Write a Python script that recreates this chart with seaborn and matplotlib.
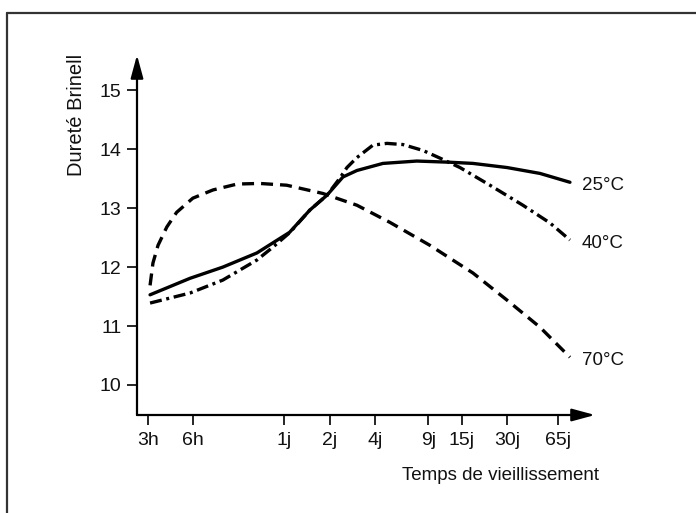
import matplotlib
matplotlib.use("Agg")
import matplotlib.pyplot as plt
from matplotlib.lines import Line2D
from matplotlib.ticker import NullLocator, FixedLocator, FixedFormatter
import pandas as pd
import seaborn as sns

# Aging time (hours) and Brinell hardness for each aging temperature
hours_25 = [3.1, 5.7, 9.4, 15.8, 26, 35.5, 46, 58.7, 72.7, 108, 181, 300, 426, 716, 1184, 1870]
hardness_25 = [11.53, 11.81, 12.00, 12.24, 12.59, 12.97, 13.22, 13.53, 13.64, 13.76, 13.80,
               13.78, 13.76, 13.69, 13.59, 13.44]

hours_40 = [3.1, 5.7, 9.4, 15.8, 20.2, 26.2, 35.5, 46, 56, 62.4, 72.7, 92.7, 114.8, 146.5,
            198.8, 257.6, 349.5, 552, 913, 1378, 1870]
hardness_40 = [11.39, 11.56, 11.78, 12.12, 12.34, 12.59, 12.97, 13.22, 13.51, 13.69, 13.86,
               14.07, 14.10, 14.08, 13.98, 13.85, 13.69, 13.39, 13.05, 12.75, 12.46]

hours_70 = [3.1, 3.24, 3.5, 4.0, 4.65, 5.95, 8.1, 11.7, 16.5, 24.9, 43.2, 72.7, 120, 221,
            426, 716, 1184, 1870]
hardness_70 = [11.69, 12.07, 12.37, 12.68, 12.93, 13.17, 13.31, 13.41, 13.42, 13.39, 13.25,
               13.05, 12.76, 12.37, 11.90, 11.44, 10.98, 10.47]

series_names = ["25°C", "40°C", "70°C"]
tick_hours = [3, 6, 24, 48, 96, 216, 360, 720, 1560]
tick_labels = ["3h", "6h", "1j", "2j", "4j", "9j", "15j", "30j", "65j"]
y_ticks = [10, 11, 12, 13, 14, 15]

sns.set_theme(style="white")
plt.rcParams["font.family"] = ["Liberation Sans", "DejaVu Sans"]

df = pd.concat(
    [
        pd.DataFrame({"temps": h, "durete": v, "serie": n})
        for n, h, v in zip(series_names,
                           [hours_25, hours_40, hours_70],
                           [hardness_25, hardness_40, hardness_70])
    ],
    ignore_index=True,
)

W, H = 696, 513
fig = plt.figure(figsize=(W / 100, H / 100), dpi=100)
ax = fig.add_axes([137 / W, 1 - 415 / H, 458 / W, 360 / H])

sns.lineplot(
    data=df, x="temps", y="durete", hue="serie", style="serie",
    palette={n: "black" for n in series_names},
    dashes={"25°C": "", "40°C": (3.6, 1.4, 0.9, 1.4), "70°C": (3.6, 2.1)},
    estimator=None, sort=False, linewidth=2.4, legend=False, ax=ax,
)
for line in ax.lines:
    line.set_solid_joinstyle("round")
    line.set_dash_capstyle("butt")

ax.set_xscale("log")
ax.set_xlim(2.54, 2740)
ax.set_ylim(9.49, 15.6)
ax.xaxis.set_major_locator(FixedLocator(tick_hours))
ax.xaxis.set_major_formatter(FixedFormatter(tick_labels))
ax.xaxis.set_minor_locator(NullLocator())
ax.set_yticks(y_ticks)
ax.set_yticklabels([str(t) for t in y_ticks])

for s in ax.spines.values():
    s.set_visible(False)

ax.tick_params(axis="both", which="major", direction="out", length=7, width=1.2,
               color="black", labelcolor="#111111", labelsize=14)
ax.tick_params(axis="x", pad=5, bottom=True)
ax.tick_params(axis="y", pad=4, left=True)

# Axes drawn as arrows
arrow = dict(arrowstyle="-|>,head_length=1.4,head_width=0.38", mutation_scale=10,
             lw=1.6, color="black", shrinkA=0, shrinkB=0)
ax.annotate("", xy=(1, 0), xytext=(0, 0), xycoords="axes fraction", arrowprops=arrow,
            annotation_clip=False)
ax.annotate("", xy=(0, 1), xytext=(0, 0), xycoords="axes fraction", arrowprops=arrow,
            annotation_clip=False)

ax.set_xlabel("Temps de vieillissement", fontsize=13.5, color="#111111")
ax.xaxis.set_label_coords((500 - 137) / 458, (415 - 476) / 360)
ax.xaxis.label.set_verticalalignment("center")

ax.set_ylabel("Dureté Brinell", fontsize=14.5, color="#111111")
ax.yaxis.set_label_coords((76 - 137) / 458, (415 - 115) / 360)
ax.yaxis.label.set_verticalalignment("center")

# Temperature labels at the end of each curve
for n, h, v in zip(series_names, [hours_25, hours_40, hours_70],
                   [hardness_25, hardness_40, hardness_70]):
    ax.annotate(n, xy=(h[-1], v[-1]), xytext=(8.5, -2.5), textcoords="offset points",
                ha="left", va="center", fontsize=13.5, color="#111111",
                annotation_clip=False)

# Page frame
fig.add_artist(Line2D([7 / W, 7 / W], [0, 1 - 13 / H], transform=fig.transFigure,
                      color="#333333", lw=1.6))
fig.add_artist(Line2D([7 / W, 1], [1 - 13 / H, 1 - 13 / H], transform=fig.transFigure,
                      color="#333333", lw=1.6))

fig.savefig("out.png", dpi=100)
